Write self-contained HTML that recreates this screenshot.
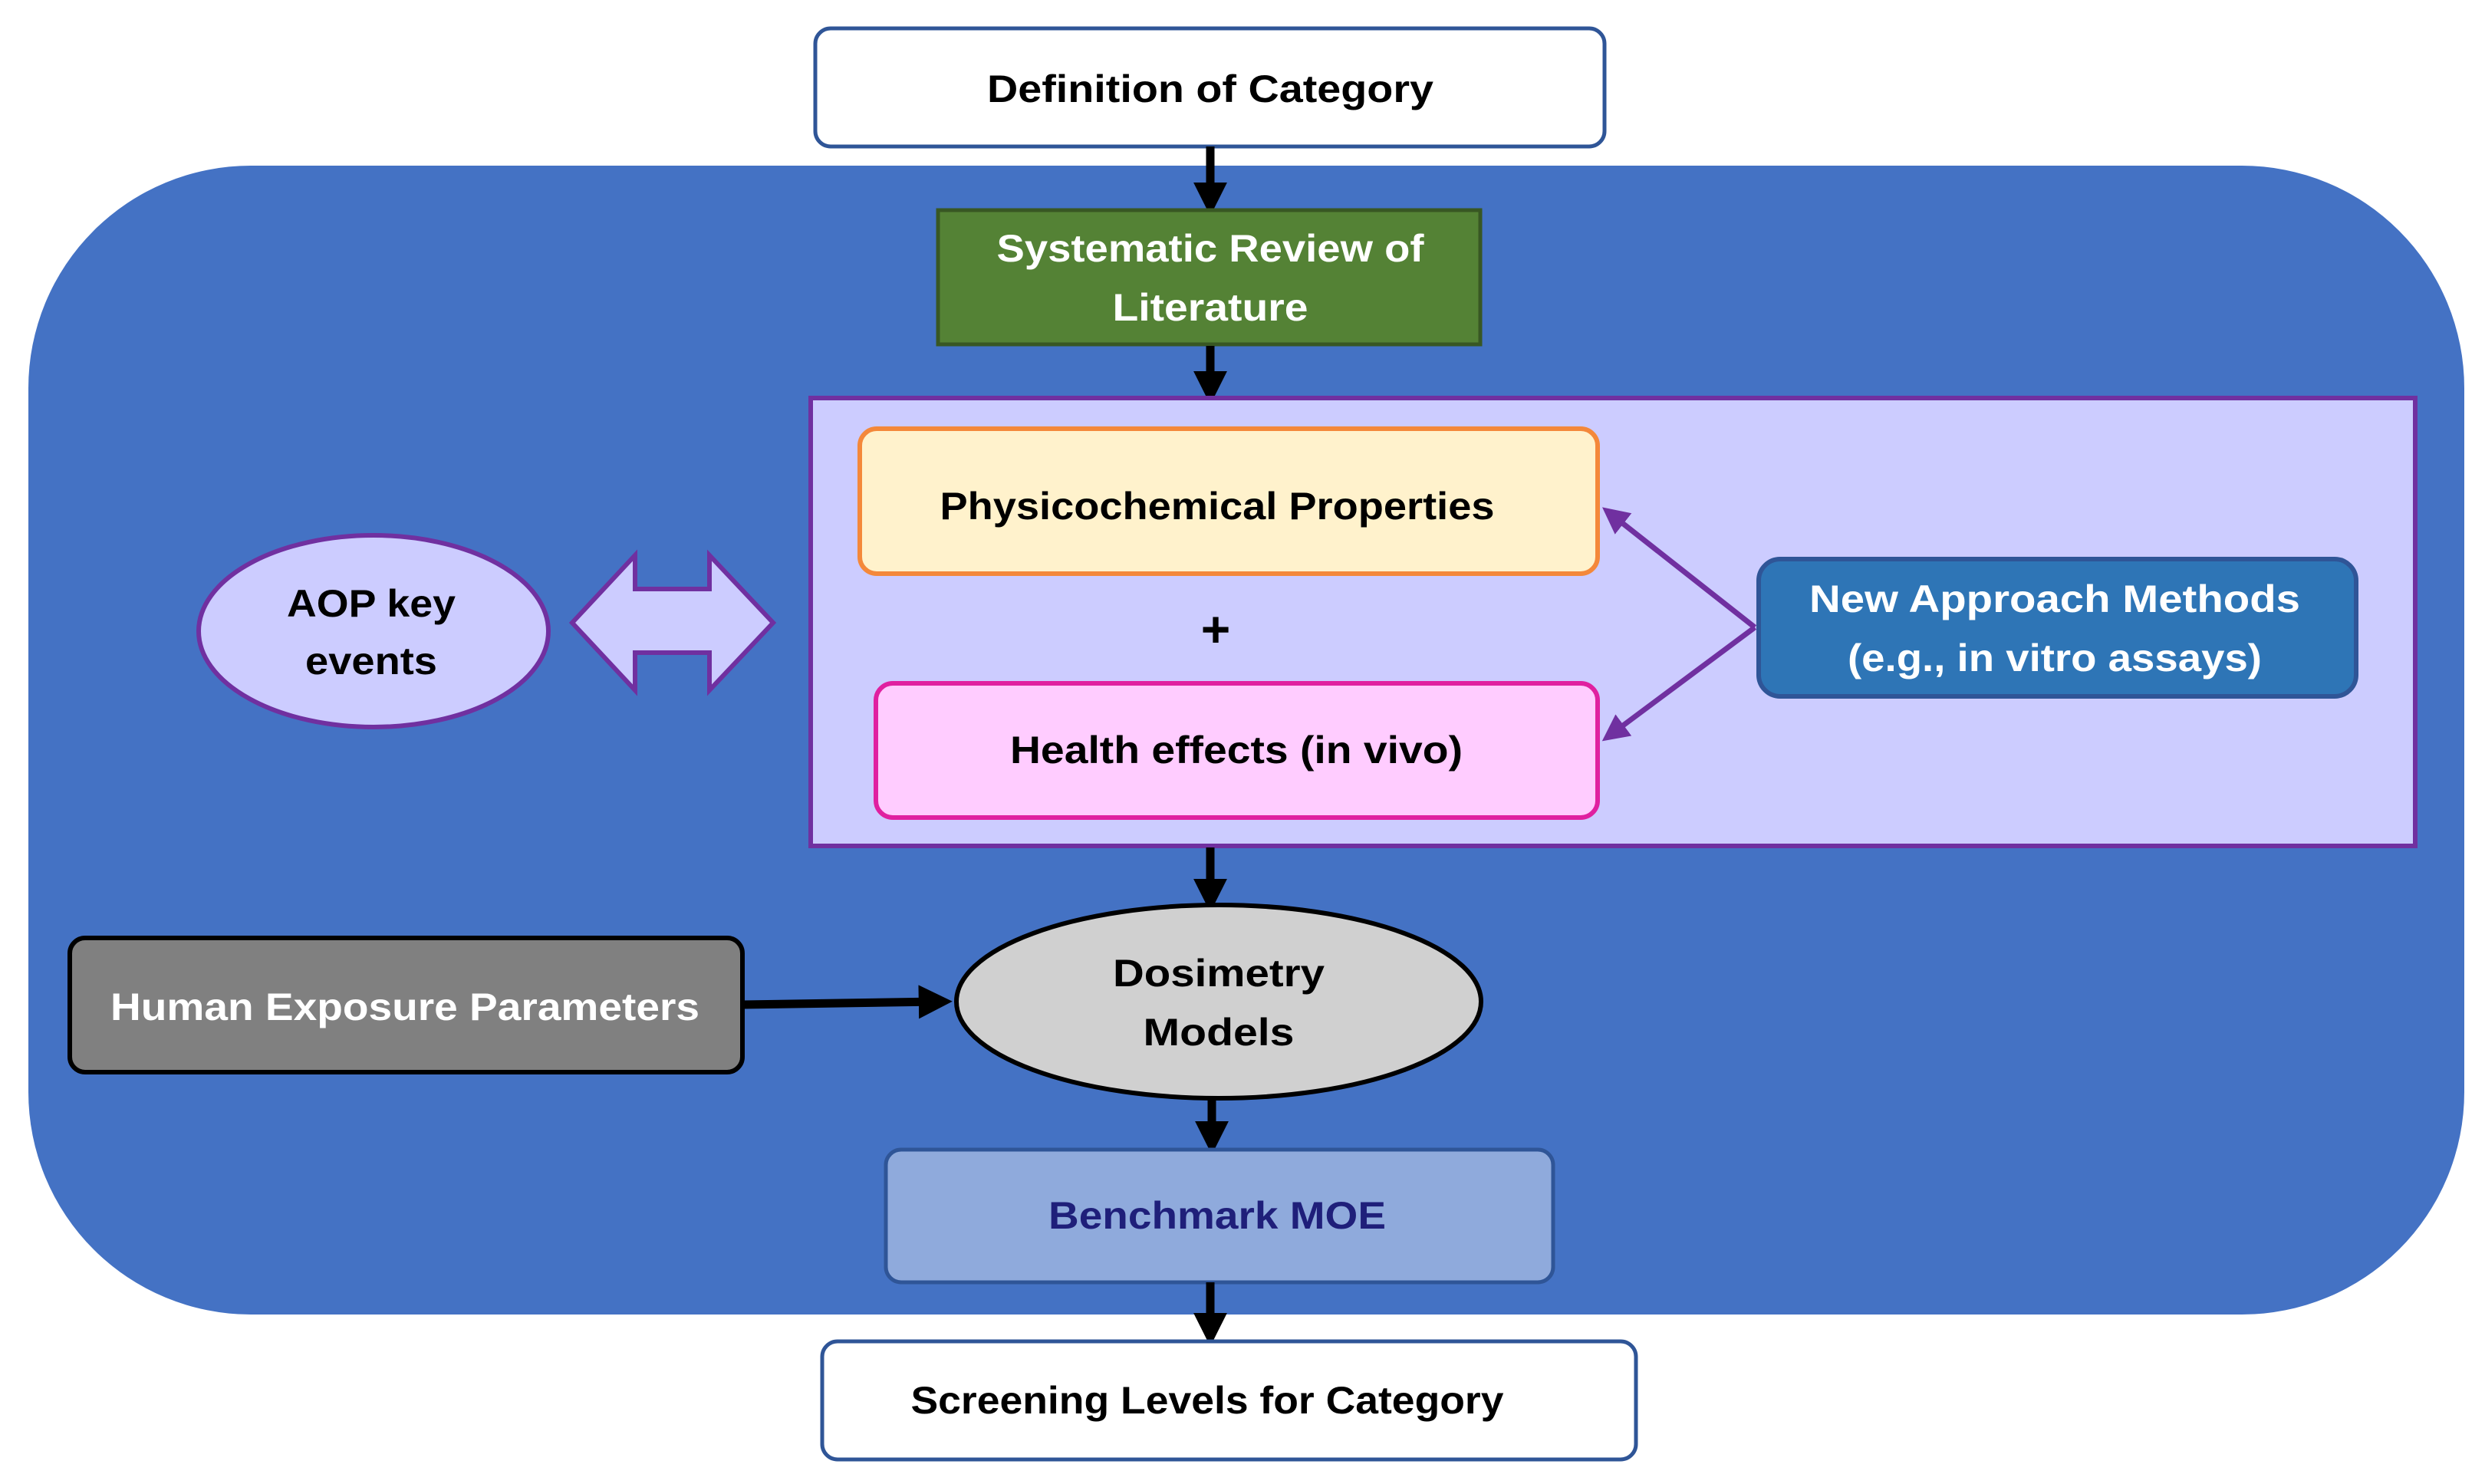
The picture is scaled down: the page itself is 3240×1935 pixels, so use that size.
<!DOCTYPE html>
<html><head><meta charset="utf-8"><style>
html,body{margin:0;padding:0;background:#fff;}
svg{display:block;}
text{font-family:"Liberation Sans",sans-serif;font-weight:bold;font-size:50px;}
</style></head><body>
<svg width="3240" height="1935" viewBox="0 0 3240 1935" xmlns="http://www.w3.org/2000/svg">
<defs>
<marker id="ab" markerWidth="4" markerHeight="4" refX="2.2" refY="2" orient="auto" markerUnits="strokeWidth"><path d="M0,0 L4,2 L0,4 z" fill="#000"/></marker>
<marker id="ap" markerWidth="5" markerHeight="5" refX="3" refY="2.5" orient="auto" markerUnits="strokeWidth"><path d="M0,0 L5,2.5 L0,5 z" fill="#7030a0"/></marker>
</defs>
<rect width="3240" height="1935" fill="#fff"/>
<rect x="37" y="216" width="3176" height="1498" rx="290" ry="290" fill="#4472c4"/>
<rect x="1063" y="37" width="1029" height="154" rx="20" fill="#fff" stroke="#2f5597" stroke-width="5"/>
<text x="1578" y="116" text-anchor="middle" dominant-baseline="central" textLength="582" lengthAdjust="spacingAndGlyphs">Definition of Category</text>
<line x1="1578" y1="191" x2="1578" y2="262" stroke="#000" stroke-width="11" marker-end="url(#ab)"/>
<rect x="1223" y="274" width="707" height="175" fill="#548235" stroke="#385723" stroke-width="5"/>
<text x="1578" y="324" text-anchor="middle" dominant-baseline="central" fill="#fff" textLength="557" lengthAdjust="spacingAndGlyphs">Systematic Review of</text>
<text x="1578" y="401" text-anchor="middle" dominant-baseline="central" fill="#fff" textLength="255" lengthAdjust="spacingAndGlyphs">Literature</text>
<line x1="1578" y1="451" x2="1578" y2="508" stroke="#000" stroke-width="11" marker-end="url(#ab)"/>
<rect x="1057" y="519" width="2092" height="584" fill="#ccccff" stroke="#7030a0" stroke-width="6"/>
<rect x="1121" y="559" width="962" height="189" rx="22" fill="#fff2cc" stroke="#f4883a" stroke-width="6"/>
<text x="1587" y="660" text-anchor="middle" dominant-baseline="central" textLength="723" lengthAdjust="spacingAndGlyphs">Physicochemical Properties</text>
<text x="1585" y="820" text-anchor="middle" dominant-baseline="central" style="font-size:66px">+</text>
<rect x="1142" y="891" width="941" height="175" rx="22" fill="#ffccff" stroke="#e020a0" stroke-width="6"/>
<text x="1612" y="978" text-anchor="middle" dominant-baseline="central" textLength="590" lengthAdjust="spacingAndGlyphs">Health effects (in vivo)</text>
<rect x="2293" y="729" width="779" height="179" rx="28" fill="#2e75b6" stroke="#2f5597" stroke-width="6"/>
<text x="2679" y="781" text-anchor="middle" dominant-baseline="central" fill="#fff" textLength="640" lengthAdjust="spacingAndGlyphs">New Approach Methods</text>
<text x="2679" y="858" text-anchor="middle" dominant-baseline="central" fill="#fff" textLength="540" lengthAdjust="spacingAndGlyphs">(e.g., in vitro assays)</text>
<line x1="2288" y1="818" x2="2100" y2="670" stroke="#7030a0" stroke-width="7" marker-end="url(#ap)"/>
<line x1="2288" y1="818" x2="2100" y2="958" stroke="#7030a0" stroke-width="7" marker-end="url(#ap)"/>
<ellipse cx="487" cy="823" rx="228" ry="125" fill="#ccccff" stroke="#7030a0" stroke-width="6"/>
<text x="484" y="787" text-anchor="middle" dominant-baseline="central" textLength="220" lengthAdjust="spacingAndGlyphs">AOP key</text>
<text x="484" y="862" text-anchor="middle" dominant-baseline="central" textLength="172" lengthAdjust="spacingAndGlyphs">events</text>
<polygon points="746,812 828,724 828,768 925,768 925,724 1008,812 925,900 925,851 828,851 828,900" fill="#ccccff" stroke="#7030a0" stroke-width="6"/>
<line x1="1578" y1="1105" x2="1578" y2="1170" stroke="#000" stroke-width="11" marker-end="url(#ab)"/>
<rect x="91" y="1223" width="877" height="175" rx="20" fill="#808080" stroke="#000" stroke-width="6"/>
<text x="528" y="1313" text-anchor="middle" dominant-baseline="central" fill="#fff" textLength="768" lengthAdjust="spacingAndGlyphs">Human Exposure Parameters</text>
<line x1="968" y1="1310" x2="1222" y2="1306" stroke="#000" stroke-width="11" marker-end="url(#ab)"/>
<ellipse cx="1589" cy="1306" rx="342" ry="126" fill="#d0d0d0" stroke="#000" stroke-width="6"/>
<text x="1589" y="1269" text-anchor="middle" dominant-baseline="central" textLength="276" lengthAdjust="spacingAndGlyphs">Dosimetry</text>
<text x="1589" y="1346" text-anchor="middle" dominant-baseline="central" textLength="197" lengthAdjust="spacingAndGlyphs">Models</text>
<line x1="1580" y1="1432" x2="1580" y2="1486" stroke="#000" stroke-width="11" marker-end="url(#ab)"/>
<rect x="1155" y="1499" width="870" height="173" rx="20" fill="#8faadc" stroke="#2f5597" stroke-width="5"/>
<text x="1587" y="1585" text-anchor="middle" dominant-baseline="central" fill="#1f1f7a" textLength="440" lengthAdjust="spacingAndGlyphs">Benchmark MOE</text>
<line x1="1578" y1="1672" x2="1578" y2="1736" stroke="#000" stroke-width="11" marker-end="url(#ab)"/>
<rect x="1072" y="1749" width="1061" height="154" rx="20" fill="#fff" stroke="#2f5597" stroke-width="5"/>
<text x="1574" y="1826" text-anchor="middle" dominant-baseline="central" textLength="773" lengthAdjust="spacingAndGlyphs">Screening Levels for Category</text>
</svg>
</body></html>
